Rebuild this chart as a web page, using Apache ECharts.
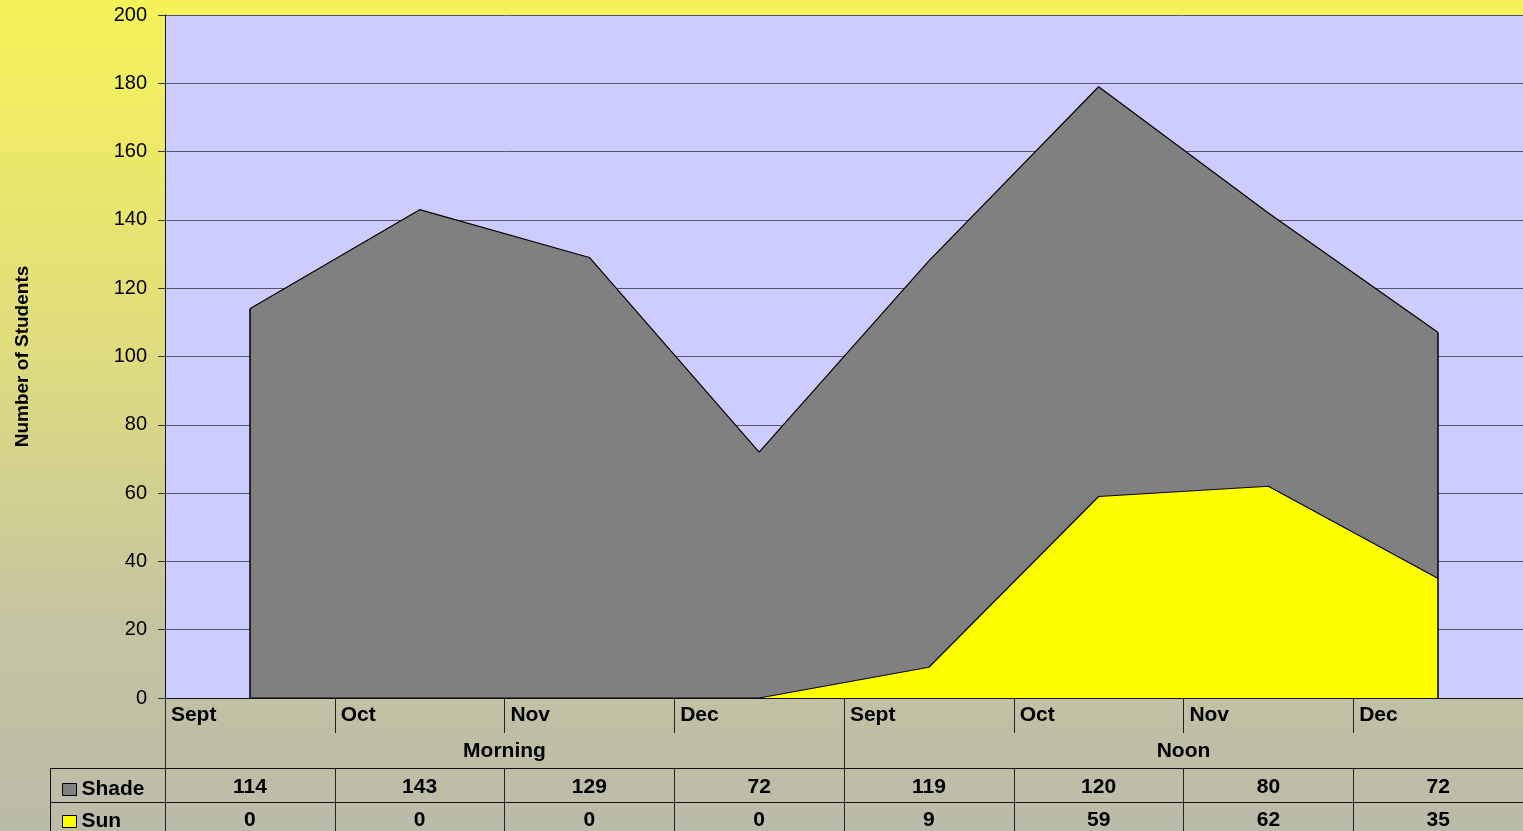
<!DOCTYPE html>
<html>
<head>
<meta charset="utf-8">
<script src="https://cdn.jsdelivr.net/npm/echarts@6/dist/echarts.min.js"></script>
<style>
html,body{margin:0;padding:0;}
#c{width:1523px;height:831px;}
</style>
</head>
<body>
<div id="c"></div>
<script>
// ---- data ----
var months = ['Sept', 'Oct', 'Nov', 'Dec', 'Sept', 'Oct', 'Nov', 'Dec'];
var periods = ['Morning', 'Noon'];
var seriesNames = ['Shade', 'Sun'];
var shade = [114, 143, 129, 72, 119, 120, 80, 72];
var sun = [0, 0, 0, 0, 9, 59, 62, 35];
var yTicks = { min: 0, max: 200, interval: 20 };

var FONT = '"Liberation Sans", Arial, sans-serif';
var TFS = 21;
var chart = echarts.init(document.getElementById('c'), null, { renderer: 'canvas' });

var lastIdx = shade.length - 1;
var total0 = shade[0] + sun[0];
var totalLast = shade[lastIdx] + sun[lastIdx];

function tableAxis(data, offset, tickLen, margin, showLine, rich) {
  return {
    type: 'category',
    gridIndex: 0,
    position: 'bottom',
    offset: offset,
    data: data,
    boundaryGap: true,
    axisLine: { show: showLine, lineStyle: { color: '#111', width: 1 } },
    axisTick: { show: true, length: tickLen, interval: 0, alignWithLabel: false, lineStyle: { color: '#222', width: 1 } },
    axisLabel: rich ? {
      interval: 0, margin: margin,
      formatter: function (v) { return '{l|' + v + '}'; },
      rich: { l: { width: 158, align: 'left', fontFamily: FONT, fontWeight: 'bold', fontSize: TFS, color: '#000' } }
    } : {
      interval: 0, margin: margin, fontFamily: FONT, fontWeight: 'bold', fontSize: TFS, color: '#000'
    },
    splitLine: { show: false }
  };
}

function legendFor(name, top) {
  return {
    orient: 'vertical',
    left: 57, top: top,
    itemWidth: 14, itemHeight: 12,
    icon: 'rect',
    data: [name],
    itemStyle: { borderColor: '#000', borderWidth: 1 },
    textStyle: { fontFamily: FONT, fontWeight: 'bold', fontSize: TFS, color: '#000' },
    selectedMode: false
  };
}

var option = {
  animation: false,
  backgroundColor: {
    type: 'linear', x: 0, y: 0, x2: 0, y2: 1,
    colorStops: [
      { offset: 0, color: '#F5F358' },
      { offset: 0.4, color: '#E0DE7C' },
      { offset: 0.75, color: '#C5C4A0' },
      { offset: 1, color: '#BBBBAA' }
    ]
  },
  grid: {
    left: 165, right: 0, top: 15, bottom: 133,
    show: true, backgroundColor: '#CCCCFF', borderWidth: 0
  },
  legend: [legendFor(seriesNames[0], 774), legendFor(seriesNames[1], 806)],
  xAxis: [
    tableAxis(months, 0, 35, 7, true, true),
    tableAxis(periods, 35, 35, 8, false, false),
    tableAxis(shade.map(String), 70, 34, 9, true, false),
    tableAxis(sun.map(String), 104, 32, 8, true, false)
  ],
  yAxis: {
    type: 'value',
    min: yTicks.min, max: yTicks.max, interval: yTicks.interval,
    name: 'Number of Students',
    nameLocation: 'middle',
    nameGap: 133,
    nameTextStyle: { fontFamily: FONT, fontWeight: 'bold', fontSize: 19, color: '#000' },
    axisLine: { show: true, lineStyle: { color: '#111', width: 1 } },
    axisTick: { show: true, length: 7, lineStyle: { color: '#333' } },
    axisLabel: { margin: 18, fontFamily: FONT, fontSize: 20, color: '#000' },
    splitLine: { show: true, lineStyle: { color: '#55556A', width: 1 } }
  },
  series: [
    {
      name: seriesNames[1], type: 'line', stack: 'total',
      data: sun, symbol: 'none', showSymbol: false,
      itemStyle: { color: '#FFFF00' },
      lineStyle: { color: '#000', width: 1.2 },
      areaStyle: { color: '#FFFF00', opacity: 1 },
      z: 3
    },
    {
      name: seriesNames[0], type: 'line', stack: 'total',
      data: shade, symbol: 'none', showSymbol: false,
      itemStyle: { color: '#808080' },
      lineStyle: { color: '#000', width: 1.2 },
      areaStyle: { color: '#808080', opacity: 1 },
      z: 2,
      markLine: {
        silent: true, symbol: 'none', label: { show: false },
        lineStyle: { color: '#000', width: 1.5, type: 'solid' },
        data: [
          [{ coord: [0, 0] }, { coord: [0, total0] }],
          [{ coord: [lastIdx, 0] }, { coord: [lastIdx, totalLast] }]
        ]
      }
    }
  ],
  graphic: [
    { type: 'line', shape: { x1: 50.5, y1: 768, x2: 50.5, y2: 831 }, style: { stroke: '#111', lineWidth: 1 }, silent: true },
    { type: 'line', shape: { x1: 50, y1: 768.5, x2: 165, y2: 768.5 }, style: { stroke: '#111', lineWidth: 1 }, silent: true },
    { type: 'line', shape: { x1: 50, y1: 802.5, x2: 165, y2: 802.5 }, style: { stroke: '#111', lineWidth: 1 }, silent: true }
  ]
};
chart.setOption(option);
</script>
</body>
</html>
